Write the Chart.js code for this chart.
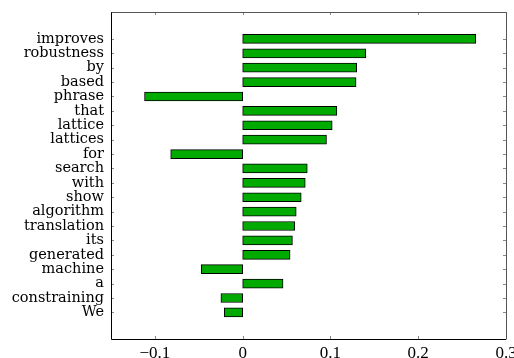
<!DOCTYPE html>
<html>
<head>
<meta charset="utf-8">
<script src="https://cdn.jsdelivr.net/npm/chart.js@4"></script>
<style>
  html, body { margin: 0; padding: 0; background: #fff; }
  #wrap { width: 514px; height: 358px; }
</style>
</head>
<body>
<div id="wrap"><canvas id="myChart"></canvas></div>
<script>
let words = ['improves', 'robustness', 'by', 'based', 'phrase', 'that', 'lattice', 'lattices', 'for', 'search',
  'with', 'show', 'algorithm', 'translation', 'its', 'generated', 'machine', 'a', 'constraining', 'We'];
let scores = [0.2655, 0.1402, 0.1299, 0.1292, -0.1118, 0.1073, 0.102, 0.0955, -0.082, 0.0736,
  0.0713, 0.0667, 0.061, 0.0594, 0.0567, 0.054, -0.0471, 0.046, -0.0248, -0.021];
let xTicks = [-0.1, 0, 0.1, 0.2, 0.3];

// inward tick marks on all four sides + frame
const innerTicks = {
  id: 'innerTicks',
  afterDraw(chart) {
    const c = chart.ctx, a = chart.chartArea;
    const xs = chart.scales.x, ys = chart.scales.y;
    c.save();
    c.strokeStyle = '#888';
    c.lineWidth = 1;
    c.beginPath();
    xTicks.forEach(t => {
      let px = Math.round(xs.getPixelForValue(t)) + 0.5;
      c.moveTo(px, a.top); c.lineTo(px, a.top + 3);
      c.moveTo(px, a.bottom); c.lineTo(px, a.bottom - 3);
    });
    words.forEach((w, i) => {
      let py = Math.round(ys.getPixelForValue(i)) + 0.5;
      c.moveTo(a.left, py); c.lineTo(a.left + 3, py);
      c.moveTo(a.right, py); c.lineTo(a.right - 3, py);
    });
    c.stroke();
    c.strokeStyle = '#000';
    c.beginPath();
    c.moveTo(Math.round(a.left) + 0.5, a.top);
    c.lineTo(Math.round(a.left) + 0.5, Math.round(a.bottom) + 0.5);
    c.lineTo(a.right, Math.round(a.bottom) + 0.5);
    c.stroke();
    c.strokeStyle = '#555';
    c.beginPath();
    c.moveTo(Math.round(a.left) + 0.5, Math.round(a.top) + 0.5);
    c.lineTo(Math.round(a.right) + 0.5, Math.round(a.top) + 0.5);
    c.lineTo(Math.round(a.right) + 0.5, Math.round(a.bottom) + 0.5);
    c.stroke();
    c.restore();
  }
};

const ctx = document.getElementById('myChart');

new Chart(ctx, {
  type: 'bar',
  data: {
    datasets: [{
      data: scores.map((v, i) => ({ x: v, y: i })),
      backgroundColor: '#00aa00',
      borderColor: '#000',
      borderWidth: 1,
      borderSkipped: false,
      barThickness: 9
    }]
  },
  options: {
    indexAxis: 'y',
    responsive: true,
    maintainAspectRatio: false,
    animation: false,
    layout: { padding: { top: 12, right: 8, left: 0, bottom: 0 } },
    plugins: { legend: { display: false }, tooltip: { enabled: false } },
    scales: {
      x: {
        type: 'linear',
        min: -0.15,
        max: 0.3,
        afterBuildTicks: s => { s.ticks = xTicks.map(v => ({ value: v })); },
        afterFit: s => { s.height = 19; s.paddingLeft = 0; s.paddingRight = 0; },
        grid: { display: false, drawTicks: false },
        border: { display: false },
        ticks: {
          color: '#000',
          padding: 4,
          font: { family: 'Liberation Serif', size: 17 },
          callback: v => v === 0 ? '0' : (v < 0 ? '\u2212' + Math.abs(v) : String(v))
        }
      },
      y: {
        type: 'linear',
        reverse: true,
        offset: false,
        min: -1.87,
        max: 20.85,
        afterBuildTicks: s => { s.ticks = words.map((w, i) => ({ value: i })); },
        afterFit: s => { s.width = 111; s.paddingTop = 0; s.paddingBottom = 0; },
        grid: { display: false, drawTicks: false, offset: false },
        border: { display: false },
        ticks: {
          color: '#000',
          padding: 7,
          autoSkip: false,
          font: { family: 'DejaVu Serif', size: 14.5 },
          callback: v => words[v]
        }
      }
    }
  },
  plugins: [innerTicks]
});
</script>
</body>
</html>
